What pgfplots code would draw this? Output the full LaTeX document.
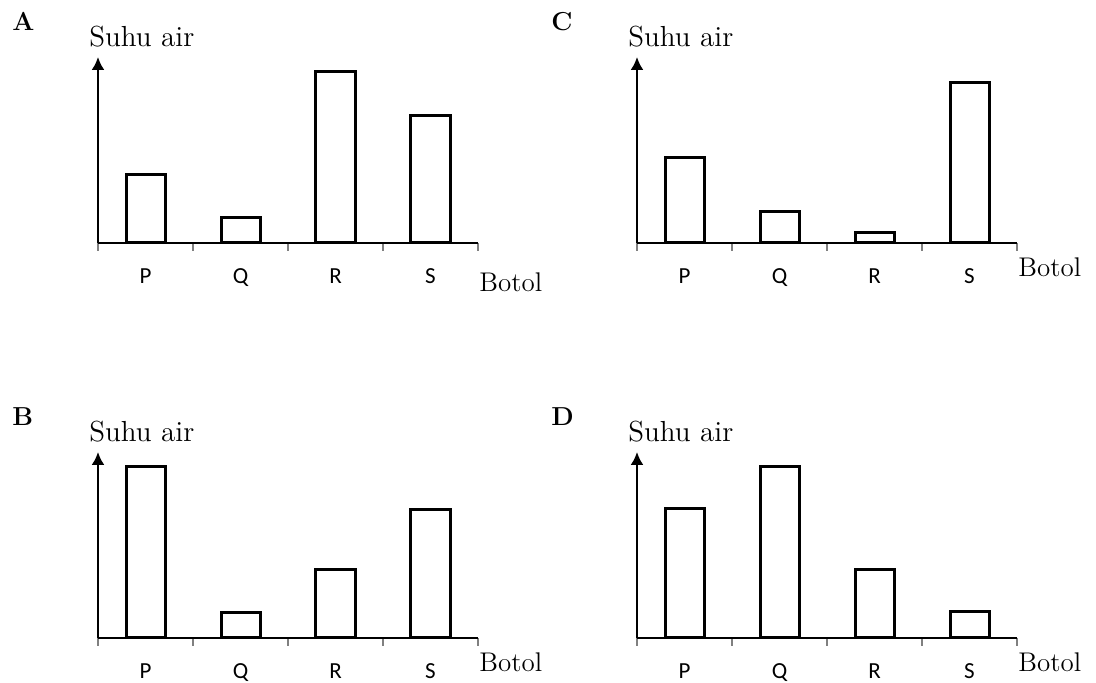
\documentclass[border=0pt]{standalone}
\usepackage{pgfplots}
\pgfplotsset{compat=1.18}
\usepackage{fontspec}
\newfontfamily\tickfont{Carlito}
\usetikzlibrary{arrows.meta}

% bar heights, in the picture's own units (axis top = 186)
\pgfplotstableread{
x h
0 68
1 25
2 171
3 127
}\dataA
\pgfplotstableread{
x h
0 171
1 25
2 68
3 128
}\dataB
\pgfplotstableread{
x h
0 85
1 31
2 10
3 160
}\dataC
\pgfplotstableread{
x h
0 129
1 171
2 68
3 26
}\dataD

\pgfplotsset{
  panel/.style={
    scale only axis,
    width=190pt, height=93pt,
    anchor=south west,
    xmin=-0.5, xmax=3.5, ymin=0, ymax=186,
    axis lines*=left,
    axis line style={line width=1.1pt},
    y axis line style={-{Latex[length=6.5pt,width=6.5pt]}},
    x axis line style={-},
    ytick=\empty,
    xtick={0,1,2,3},
    xticklabels={P,Q,R,S},
    major tick length=0pt,
    minor xtick={-0.5,0.5,1.5,2.5,3.5},
    minor tick length=4pt,
    tick align=outside,
    minor tick style={gray, line width=0.6pt},
    xticklabel style={font=\tickfont\fontsize{11.5}{13}\selectfont, anchor=base, yshift=-20.5pt},
    xlabel={Botol},
    xlabel style={at={(axis description cs:1,0)}, anchor=base west, xshift=0.5pt, yshift=-17pt,
      font=\fontsize{13.5}{15}\selectfont, inner sep=0pt},
    ylabel={Suhu air},
    ylabel style={at={(axis description cs:0,1)}, rotate=-90, anchor=base west, xshift=-4.5pt, yshift=5pt,
      font=\fontsize{14.5}{16}\selectfont, inner sep=0pt},
    title style={at={(axis description cs:0,0)}, anchor=base west, xshift=-43pt, yshift=100pt,
      font=\fontsize{13}{15}\selectfont\bfseries, inner sep=0pt},
    clip=false,
  },
  bars/.style={ybar, bar width=19.5pt, fill=white, draw=black, line width=1.5pt},
}

\begin{document}
\begin{tikzpicture}
\useasboundingbox (0,0) rectangle (548pt,341.5pt);

\begin{axis}[panel, at={(49pt,220pt)}, title={A},
  xlabel style={yshift=-7.5pt}]
\addplot[bars] table[x=x, y=h] {\dataA};
\end{axis}

\begin{axis}[panel, at={(318.5pt,220pt)}, title={C}]
\addplot[bars] table[x=x, y=h] {\dataC};
\end{axis}

\begin{axis}[panel, at={(49pt,22.5pt)}, title={B}]
\addplot[bars] table[x=x, y=h] {\dataB};
\end{axis}

\begin{axis}[panel, at={(318.5pt,22.5pt)}, title={D}]
\addplot[bars] table[x=x, y=h] {\dataD};
\end{axis}
\end{tikzpicture}
\end{document}
